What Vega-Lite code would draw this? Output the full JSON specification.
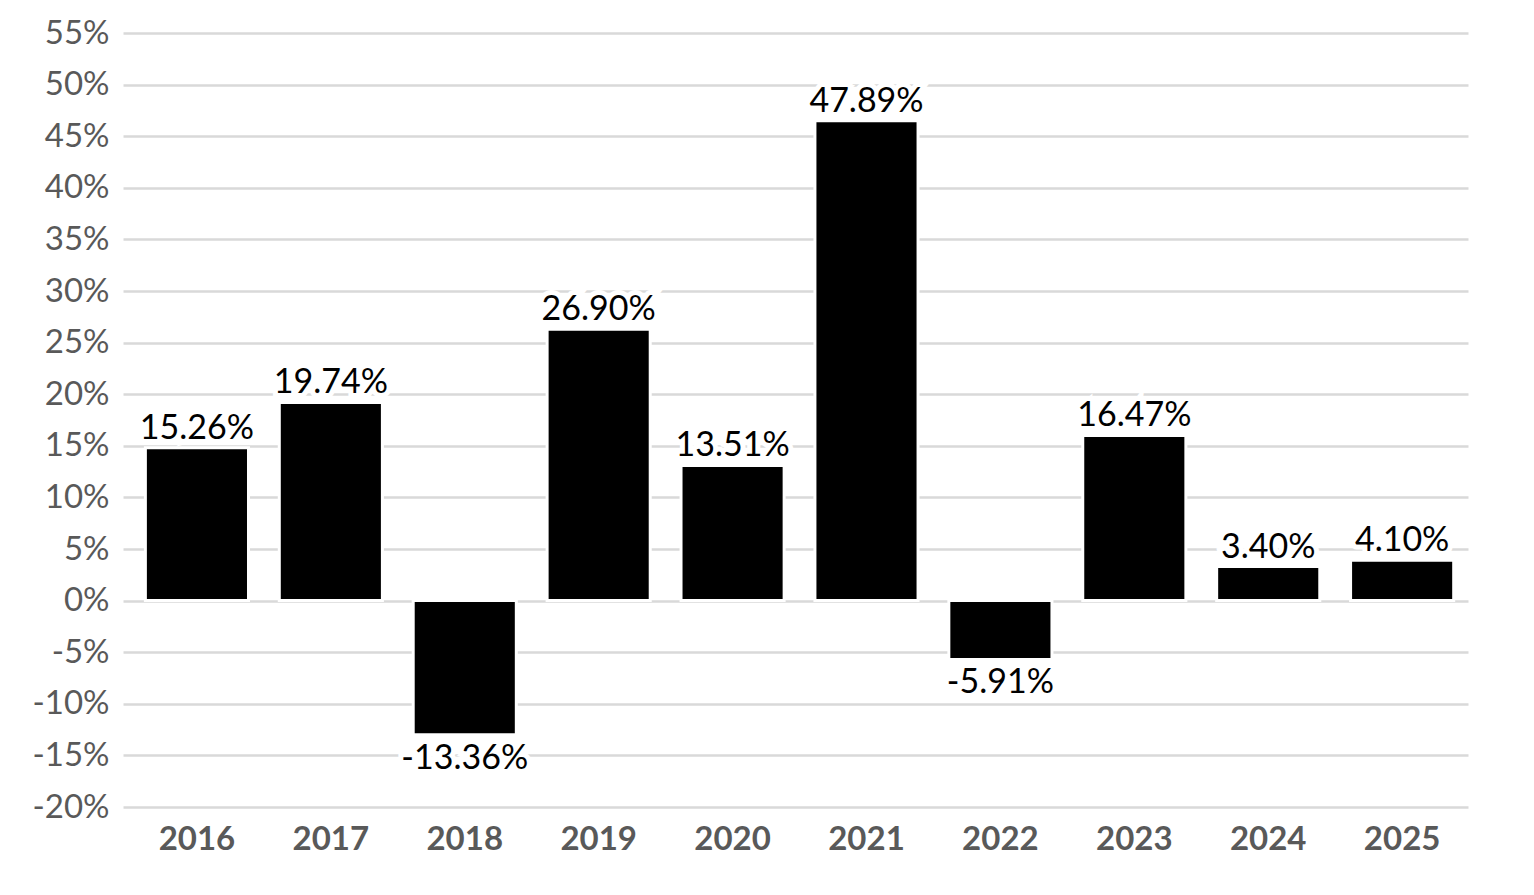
{
  "$schema": "https://vega.github.io/schema/vega-lite/v6.json",
  "autosize": "none",
  "padding": {"left": 123, "top": 33, "right": 66, "bottom": 88},
  "width": 1345,
  "height": 774,
  "background": "white",
  "data": {
    "values": [
      {"year": "2016", "v": 14.8, "label": "15.26%"},
      {"year": "2017", "v": 19.2, "label": "19.74%"},
      {"year": "2018", "v": -13.0, "label": "-13.36%"},
      {"year": "2019", "v": 26.3, "label": "26.90%"},
      {"year": "2020", "v": 13.1, "label": "13.51%"},
      {"year": "2021", "v": 46.5, "label": "47.89%"},
      {"year": "2022", "v": -5.7, "label": "-5.91%"},
      {"year": "2023", "v": 16.0, "label": "16.47%"},
      {"year": "2024", "v": 3.3, "label": "3.40%"},
      {"year": "2025", "v": 3.9, "label": "4.10%"}
    ]
  },
  "encoding": {
    "x": {
      "field": "year", "type": "ordinal", "title": null,
      "scale": {"paddingInner": 0.23, "paddingOuter": 0.137, "align": 0.61},
      "axis": {
        "labelAngle": 0, "labelFont": "Lato", "labelFontWeight": "bold",
        "labelFontSize": 33, "labelColor": "#595959", "labelPadding": 16,
        "ticks": false, "domain": false, "grid": false
      }
    },
    "y": {
      "field": "v", "type": "quantitative", "title": null,
      "scale": {"domain": [-20, 55], "nice": false, "zero": true},
      "axis": {
        "values": [-20, -15, -10, -5, 0, 5, 10, 15, 20, 25, 30, 35, 40, 45, 50, 55],
        "labelExpr": "datum.value + '%'",
        "labelFont": "Lato", "labelFontSize": 33, "labelColor": "#595959",
        "labelPadding": 14, "ticks": false, "domain": false,
        "grid": true, "gridColor": "#d9d9d9", "gridWidth": 2.5
      }
    }
  },
  "layer": [
    {
      "mark": {"type": "bar", "color": "#000000", "stroke": "white", "strokeWidth": 3}
    },
    {
      "transform": [{"filter": "datum.v >= 0"}],
      "mark": {"type": "text", "font": "Lato", "fontSize": 34, "baseline": "alphabetic", "dy": -9, "color": "white", "stroke": "white", "strokeWidth": 10},
      "encoding": {"text": {"field": "label"}}
    },
    {
      "transform": [{"filter": "datum.v < 0"}],
      "mark": {"type": "text", "font": "Lato", "fontSize": 34, "baseline": "alphabetic", "dy": 34, "color": "white", "stroke": "white", "strokeWidth": 10},
      "encoding": {"text": {"field": "label"}}
    },
    {
      "transform": [{"filter": "datum.v >= 0"}],
      "mark": {"type": "text", "font": "Lato", "fontSize": 34, "baseline": "alphabetic", "dy": -9, "color": "#000000"},
      "encoding": {"text": {"field": "label"}}
    },
    {
      "transform": [{"filter": "datum.v < 0"}],
      "mark": {"type": "text", "font": "Lato", "fontSize": 34, "baseline": "alphabetic", "dy": 34, "color": "#000000"},
      "encoding": {"text": {"field": "label"}}
    }
  ],
  "config": {
    "view": {"stroke": null}
  }
}
